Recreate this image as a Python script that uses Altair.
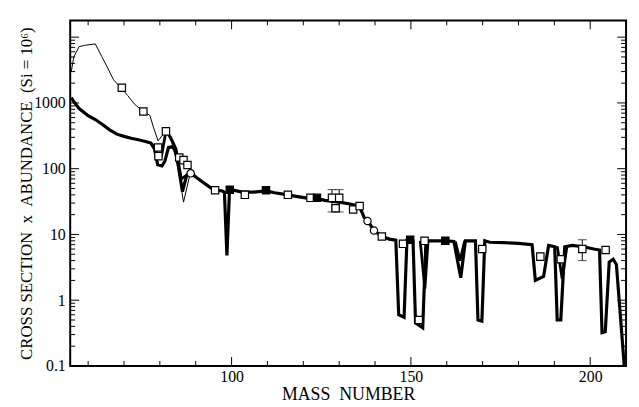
import altair as alt
import pandas as pd

# ---- heavy curve (main) ----
t1_mass = [55.3, 56, 57.5, 60, 62, 64, 66, 68, 70, 72, 74, 76, 77.5, 78.5, 79.4, 80.6, 81.4, 82.4, 83.5, 84.5,
           86.3, 87.5, 88.5, 90, 92, 94, 95.5, 97.3, 98.0, 98.7, 99.4, 100.5, 103, 106, 109.6, 112, 115.7, 118,
           122, 124, 126, 130, 133, 135.6, 137, 138, 139.7, 141.9, 144, 145.8, 146.6, 148.1, 148.9, 150, 150.6,
           151.3, 153.3, 154.2, 156, 159.5, 162, 163.9, 165.2, 168, 168.7, 169.8, 170.6, 172, 176, 180, 183.8,
           184.7, 187, 188.4, 190.1, 190.8, 191.8, 192.9, 195, 198, 201, 202.6, 203.3, 204.2, 205.3, 206.4,
           207.3, 209.5]
t1_val = [1200, 1050, 820, 640, 560, 470, 390, 335, 310, 290, 275, 260, 245, 200, 115, 110, 130, 210, 215, 180,
          45, 80, 88, 75, 62, 52, 47, 46, 44, 4.8, 44, 47, 44, 44, 46, 43, 40, 38,
          35, 35, 33, 31, 29, 27, 18, 16, 11.5, 9.3, 8.5, 8.2, 0.6, 0.55, 8.2, 8.3, 8.0,
          0.45, 0.38, 8.0, 8.0, 8.0, 7.8, 2.2, 8.0, 8.0, 0.5, 0.48, 8.0, 7.6, 7.5, 7.3, 7.0,
          2.0, 2.3, 6.8, 6.5, 0.5, 0.5, 6.5, 6.8, 6.5, 6.0, 5.8, 0.32, 0.33, 3.8, 4.2,
          3.5, 0.1]

# ---- second heavy curve (differs at some dips) ----
t2_seg = ["a"] * 11 + ["b"] * 3 + ["c"] * 3 + ["d"] * 3
t2_mass = [77.5, 78.5, 79.3, 80.5, 81.7, 83, 84.5, 86, 87.5, 88.5, 90,
           152.6, 153.9, 154.8,
           162.4, 163.7, 165.0,
           190.8, 192.2, 193.5]
t2_val = [245, 210, 165, 160, 370, 300, 200, 70, 80, 88, 75,
          8.0, 1.5, 8.0,
          7.8, 4.0, 8.0,
          6.6, 2.1, 6.5]

# ---- thin curve ----
thin_mass = [55.3, 56, 57.5, 59, 62, 63.8, 65, 67.1, 69.4, 71, 73, 75.4, 77.2, 78.2, 79.5, 81.7, 83.3, 85, 86.6, 88.5]
thin_val = [3000, 5000, 7200, 7500, 7900, 5100, 3800, 2240, 1650, 1300, 950, 740, 650, 430, 265, 380, 250, 110, 31, 87]

# ---- measured points ----
open_sq_mass = [69.4, 75.4, 79.5, 79.6, 81.7, 85.4, 86.6, 87.7, 95.4, 103.7, 115.7, 122, 128, 130, 129,
                133.9, 135.7, 141.9, 147.8, 152.2, 153.8, 169.9, 186.1, 191.8, 197.8, 204.3]
open_sq_val = [1700, 740, 210, 155, 370, 148, 135, 114, 47, 40, 40, 36, 36, 36, 25,
               24, 27, 9.3, 7.2, 0.5, 8.0, 6.0, 4.6, 4.2, 6.0, 5.8]
filled_sq_mass = [99.5, 109.6, 123.8, 149.8, 159.6]
filled_sq_val = [48, 47, 36, 8.3, 8.0]
circle_mass = [88.6, 137.9, 139.7]
circle_val = [85, 16, 11.5]
err_mass = [128, 130, 197.8]
err_lo = [22, 22, 4.0]
err_hi = [48, 48, 8.3]

# ---- axis ticks ----
x_label_vals = [100, 150, 200]
x_minor_vals = [60, 70, 80, 90, 110, 120, 130, 140, 160, 170, 180, 190]
y_label_vals = [0.1, 1, 10, 100, 1000]
y_major_vals = [0.1, 1, 10, 100, 1000, 10000]
y_minor_vals = [m * 10 ** k for k in range(-1, 5) for m in range(2, 10) if m * 10 ** k < 18000]

W, H = 563, 350
FONT = "Liberation Serif"
xs = alt.Scale(domain=[55, 210], nice=False, zero=False)
ys = alt.Scale(type="log", domain=[0.1, 18000], nice=False)
xax = alt.Axis(values=x_label_vals, ticks=False, domain=False, grid=False, labelFont=FONT, labelFontSize=16,
               labelColor="black", labelPadding=3, title="MASS\u00a0\u00a0NUMBER", titleFont=FONT,
               titleFontSize=18, titleFontWeight="normal", titleColor="black", titlePadding=1)
yax = alt.Axis(values=y_label_vals, format="~g", ticks=False, domain=False, grid=False, labelFont=FONT,
               labelFontSize=16, labelColor="black", labelPadding=5,
               title="CROSS SECTION\u00a0\u00a0x\u00a0\u00a0ABUNDANCE\u00a0\u00a0(Si = 10\u2076)",
               titleFont=FONT, titleFontSize=17, titleFontWeight="normal", titleColor="black", titlePadding=-2)


def X(f):
    return alt.X(f, type="quantitative", scale=xs, axis=xax)


def Y(f):
    return alt.Y(f, type="quantitative", scale=ys, axis=yax)


t1 = pd.DataFrame({"m": t1_mass, "v": t1_val})
t2 = pd.DataFrame({"m": t2_mass, "v": t2_val, "s": t2_seg})
thin = pd.DataFrame({"m": thin_mass, "v": thin_val})
osq = pd.DataFrame({"m": open_sq_mass, "v": open_sq_val})
fsq = pd.DataFrame({"m": filled_sq_mass, "v": filled_sq_val})
circ = pd.DataFrame({"m": circle_mass, "v": circle_val})
err = pd.DataFrame({"m": err_mass, "lo": err_lo, "hi": err_hi})
yt_major = pd.DataFrame({"v": y_major_vals})
yt_minor = pd.DataFrame({"v": y_minor_vals})
xt_major = pd.DataFrame({"m": x_label_vals})
xt_minor = pd.DataFrame({"m": x_minor_vals})

layers = [
    alt.Chart(thin).mark_line(color="black", strokeWidth=1).encode(x=X("m"), y=Y("v")),
    alt.Chart(t2).mark_line(color="black", strokeWidth=2.8).encode(x=X("m"), y=Y("v"), detail="s:N"),
    alt.Chart(t1).mark_line(color="black", strokeWidth=3.2).encode(x=X("m"), y=Y("v")),
    alt.Chart(err).mark_rule(color="black", strokeWidth=1).encode(x=X("m"), y=Y("lo"), y2="hi:Q"),
    alt.Chart(err).mark_tick(color="black", orient="horizontal", size=9, thickness=1).encode(x=X("m"), y=Y("lo")),
    alt.Chart(err).mark_tick(color="black", orient="horizontal", size=9, thickness=1).encode(x=X("m"), y=Y("hi")),
    alt.Chart(osq).mark_square(size=55, filled=True, fill="white", stroke="black", strokeWidth=1.2,
                               opacity=1).encode(x=X("m"), y=Y("v")),
    alt.Chart(fsq).mark_square(size=55, filled=True, fill="black", stroke="black", strokeWidth=1.2,
                               opacity=1).encode(x=X("m"), y=Y("v")),
    alt.Chart(circ).mark_point(shape="circle", size=55, filled=True, fill="white", stroke="black",
                               strokeWidth=1.2, opacity=1).encode(x=X("m"), y=Y("v")),
    # inward ticks, left / right
    alt.Chart(yt_major).mark_rule(color="black", strokeWidth=1).encode(y=Y("v"), x=alt.value(0), x2=alt.value(9)),
    alt.Chart(yt_minor).mark_rule(color="black", strokeWidth=1).encode(y=Y("v"), x=alt.value(0), x2=alt.value(5)),
    alt.Chart(yt_major).mark_rule(color="black", strokeWidth=1).encode(y=Y("v"), x=alt.value(W), x2=alt.value(W - 9)),
    alt.Chart(yt_minor).mark_rule(color="black", strokeWidth=1).encode(y=Y("v"), x=alt.value(W), x2=alt.value(W - 5)),
    # inward ticks, bottom / top
    alt.Chart(xt_major).mark_rule(color="black", strokeWidth=1).encode(x=X("m"), y=alt.value(H), y2=alt.value(H - 9)),
    alt.Chart(xt_minor).mark_rule(color="black", strokeWidth=1).encode(x=X("m"), y=alt.value(H), y2=alt.value(H - 5)),
    alt.Chart(xt_major).mark_rule(color="black", strokeWidth=1).encode(x=X("m"), y=alt.value(0), y2=alt.value(9)),
    alt.Chart(xt_minor).mark_rule(color="black", strokeWidth=1).encode(x=X("m"), y=alt.value(0), y2=alt.value(5)),
]

chart = alt.layer(*layers).properties(
    width=W, height=H,
    autosize=alt.AutoSizeParams(type="none"),
    padding={"left": 63, "top": 10, "right": 5, "bottom": 38},
    background="white",
).configure_view(stroke="black", strokeWidth=2)

chart.save("out.html", embed_options={"renderer": "svg", "actions": False})
